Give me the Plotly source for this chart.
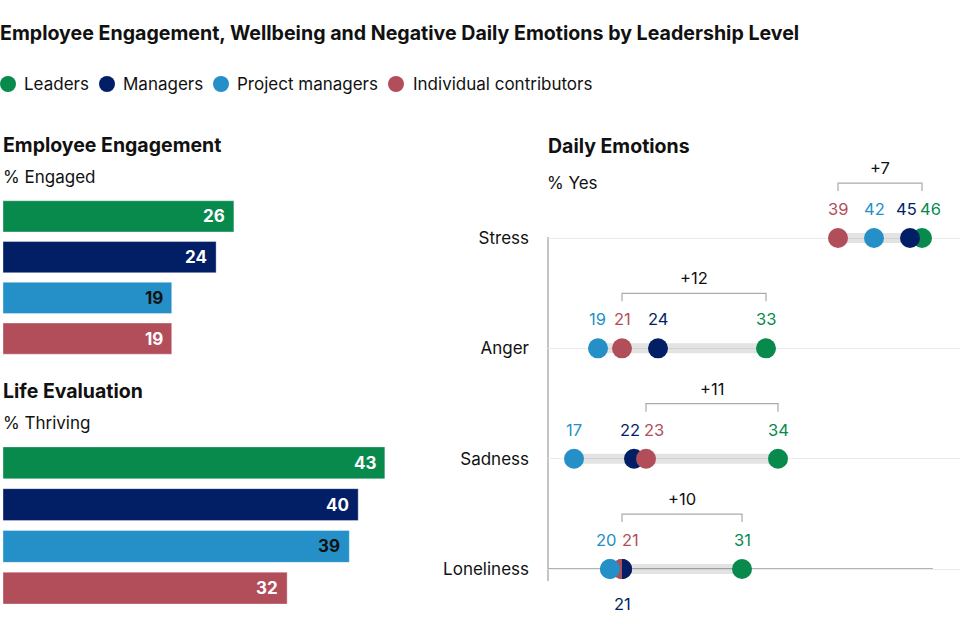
import plotly.graph_objects as go

# ---------------- data ----------------
groups = ["Leaders", "Managers", "Project managers", "Individual contributors"]
engaged = [26, 24, 19, 19]          # % Engaged
thriving = [43, 40, 39, 32]         # % Thriving

emotions = ["Stress", "Anger", "Sadness", "Loneliness"]
leaders_emo = [46, 33, 34, 31]
managers_emo = [45, 24, 22, 21]
pm_emo = [42, 19, 17, 20]
ic_emo = [39, 21, 23, 21]

# ---------------- styles ----------------
colors = ["#078A4C", "#021F66", "#2490C7", "#B24E5A"]
bar_text_colors = ["white", "white", "#111111", "white"]
FONT = "Inter"
W, H = 962, 634


def fx(px):
    return px / W


def fy(py):
    return 1 - py / H


emo_vals = [leaders_emo, managers_emo, pm_emo, ic_emo]
draw_order = [0, 1, 3, 2]  # Leaders, Managers, Individual contributors, Project managers
rows = list(range(len(emotions)))

fig = go.Figure()
annotations = []
shapes = []

# axis decorations (drawn first, below data)
shapes.append(dict(type="line", xref="x3 domain", yref="paper", x0=0, x1=0,
                   y0=fy(237), y1=fy(581), line=dict(color="#8a8a8a", width=1), layer="below"))
shapes.append(dict(type="line", xref="x3 domain", yref="y3", x0=0, x1=(933 - 548) / (960 - 548),
                   y0=rows[-1], y1=rows[-1], line=dict(color="#9a9a9a", width=1.5), layer="below"))

# ---------------- left: bars ----------------
for vals, xa, ya in [(engaged, "x", "y"), (thriving, "x2", "y2")]:
    fig.add_trace(go.Bar(
        x=vals, y=groups, orientation="h",
        marker=dict(color=colors, line=dict(color="rgba(255,255,255,0.35)", width=1)),
        xaxis=xa, yaxis=ya, showlegend=False, hoverinfo="skip"))
    for i, (v, tc) in enumerate(zip(vals, bar_text_colors)):
        annotations.append(dict(
            x=v, y=i, xref=xa, yref=ya, text=f"<b>{v}</b>", showarrow=False,
            xanchor="right", yanchor="middle", xshift=-7,
            font=dict(family=FONT, size=17, color=tc)))

# ---------------- right: dot plot ----------------
band_x, band_y = [], []
for r in rows:
    row_vals = [s[r] for s in emo_vals]
    band_x += [min(row_vals), max(row_vals), None]
    band_y += [r, r, None]
fig.add_trace(go.Scatter(
    x=band_x, y=band_y, mode="lines", xaxis="x3", yaxis="y3",
    line=dict(color="rgba(0,0,0,0.11)", width=10), showlegend=False, hoverinfo="skip"))

for k in draw_order:
    fig.add_trace(go.Scatter(
        x=emo_vals[k], y=rows, mode="markers", name=groups[k], xaxis="x3", yaxis="y3",
        marker=dict(size=20, color=colors[k], line=dict(width=0)),
        showlegend=False, hoverinfo="skip"))

# pixel scale of x3 for label spacing
X3_DOM = (548, 960)
X3_RANGE = (14.833, 49.167)
PX_PER_UNIT = (X3_DOM[1] - X3_DOM[0]) / (X3_RANGE[1] - X3_RANGE[0])
R = 10
KAPPA = 0.5523 * R

for r in rows:
    row_vals = [s[r] for s in emo_vals]
    # ties: split circles, lower-index series label goes below
    below = set()
    tie_pairs = []
    for a in range(len(groups)):
        for b in range(a + 1, len(groups)):
            if row_vals[a] == row_vals[b]:
                tie_pairs.append((a, b))
                below.add(a)
    for a, b in tie_pairs:
        v = row_vals[a]
        left_path = f"M 0,{R} C {-KAPPA},{R} {-R},{KAPPA} {-R},0 C {-R},{-KAPPA} {-KAPPA},{-R} 0,{-R} Z"
        right_path = f"M 0,{R} C {KAPPA},{R} {R},{KAPPA} {R},0 C {R},{-KAPPA} {KAPPA},{-R} 0,{-R} Z"
        for path, k in [(left_path, b), (right_path, a)]:
            shapes.append(dict(type="path", path=path, xref="x3", yref="y3",
                               xsizemode="pixel", ysizemode="pixel", xanchor=v, yanchor=r,
                               fillcolor=colors[k], line=dict(width=0), layer="above"))
        # redraw later-drawn dots on top
        last_pos = max(draw_order.index(a), draw_order.index(b))
        for k in draw_order[last_pos + 1:]:
            shapes.append(dict(type="circle", xref="x3", yref="y3",
                               xsizemode="pixel", ysizemode="pixel",
                               xanchor=row_vals[k], yanchor=r, x0=-R, x1=R, y0=-R, y1=R,
                               fillcolor=colors[k], line=dict(width=0), layer="above"))

    # labels above, spread if overlapping
    above = sorted([k for k in range(len(groups)) if k not in below], key=lambda k: row_vals[k])
    shifts = {k: 0.0 for k in above}
    MIN_GAP = 24
    for i in range(len(above) - 1):
        k1, k2 = above[i], above[i + 1]
        d = (row_vals[k2] - row_vals[k1]) * PX_PER_UNIT
        if d < MIN_GAP:
            deficit = MIN_GAP - d
            shifts[k1] -= 0.3 * deficit
            shifts[k2] += 0.7 * deficit
    for k in above:
        annotations.append(dict(
            x=row_vals[k], y=r, xref="x3", yref="y3", text=str(row_vals[k]),
            showarrow=False, xanchor="center", yanchor="middle",
            xshift=shifts[k], yshift=29,
            font=dict(family=FONT, size=16.5, color=colors[k])))
    for k in below:
        annotations.append(dict(
            x=row_vals[k], y=r, xref="x3", yref="y3", text=str(row_vals[k]),
            showarrow=False, xanchor="center", yanchor="middle", yshift=-35,
            font=dict(family=FONT, size=16.5, color=colors[k])))

    # bracket: Individual contributors -> Leaders
    lo, hi = ic_emo[r], leaders_emo[r]
    shapes.append(dict(type="path", path=f"M {lo},47 L {lo},55 L {hi},55 L {hi},47",
                       xref="x3", yref="y3", ysizemode="pixel", yanchor=r,
                       line=dict(color="#aaaaaa", width=1.2), layer="above"))
    annotations.append(dict(
        x=(lo + hi) / 2, y=r, xref="x3", yref="y3", text=f"+{hi - lo}",
        showarrow=False, xanchor="center", yanchor="middle", yshift=70,
        font=dict(family=FONT, size=16.5, color="#111111")))

# ---------------- legend (manual) ----------------
legend_circle_x = [8, 107, 221, 396]
legend_text_x = [22, 121, 235, 411]
for g, c, cx, tx in zip(groups, colors, legend_circle_x, legend_text_x):
    shapes.append(dict(type="circle", xref="paper", yref="paper",
                       x0=fx(cx - 8), x1=fx(cx + 8), y0=fy(84 + 8), y1=fy(84 - 8),
                       fillcolor=c, line=dict(width=0), layer="above"))
    annotations.append(dict(x=fx(tx), y=fy(84), xref="paper", yref="paper", text=g, showarrow=False,
                            xanchor="left", yanchor="middle",
                            font=dict(family=FONT, size=17, color="#111111")))

# ---------------- section titles ----------------
def label(text, px, py, size, bold=False):
    annotations.append(dict(x=fx(px), y=fy(py), xref="paper", yref="paper",
                            text=f"<b>{text}</b>" if bold else text, showarrow=False,
                            xanchor="left", yanchor="middle",
                            font=dict(family=FONT, size=size, color="#111111")))


label("Employee Engagement", 1, 145, 19.5, True)
label("% Engaged", 1, 177, 17)
label("Life Evaluation", 1, 391, 19.5, True)
label("% Thriving", 1, 423, 17)
label("Daily Emotions", 546, 146, 19.5, True)
label("% Yes", 545, 183, 17)

# ---------------- layout ----------------
bar_x_range = [0, 400 / 8.88]
fig.update_layout(
    width=W, height=H, margin=dict(l=0, r=0, t=0, b=0),
    paper_bgcolor="white", plot_bgcolor="white",
    font=dict(family=FONT, color="#111111"),
    title=dict(text="<b>Employee Engagement, Wellbeing and Negative Daily Emotions by Leadership Level</b>",
               x=0, xref="paper", xanchor="left", y=fy(33), yref="paper", yanchor="middle",
               font=dict(family=FONT, size=19.6, color="#111111"), pad=dict(l=0, t=0, b=0)),
    bargap=0.235,
    xaxis=dict(domain=[fx(3), fx(403)], range=bar_x_range, visible=False, fixedrange=True),
    yaxis=dict(domain=[fy(359), fy(196)], type="category", categoryarray=groups,
               range=[len(groups) - 0.5, -0.5], visible=False),
    xaxis2=dict(domain=[fx(3), fx(403)], range=bar_x_range, visible=False, anchor="y2"),
    yaxis2=dict(domain=[fy(609), fy(442)], type="category", categoryarray=groups,
                range=[len(groups) - 0.5, -0.5], visible=False, anchor="x2"),
    xaxis3=dict(domain=[fx(X3_DOM[0]), fx(X3_DOM[1])], range=list(X3_RANGE), anchor="y3",
                showgrid=False, zeroline=False, showticklabels=False, ticks="", showline=False),
    yaxis3=dict(domain=[fy(624.2), fy(127.7)], range=[3.5, -1], anchor="x3",
                tickmode="array", tickvals=rows, ticktext=emotions, ticks="",
                ticklabelstandoff=18, showgrid=True, gridcolor="#ebebeb", gridwidth=1,
                zeroline=False, showline=False,
                tickfont=dict(family=FONT, size=17, color="#111111")),
    annotations=annotations,
    shapes=shapes,
    showlegend=False,
)

fig.write_html("out.html")
